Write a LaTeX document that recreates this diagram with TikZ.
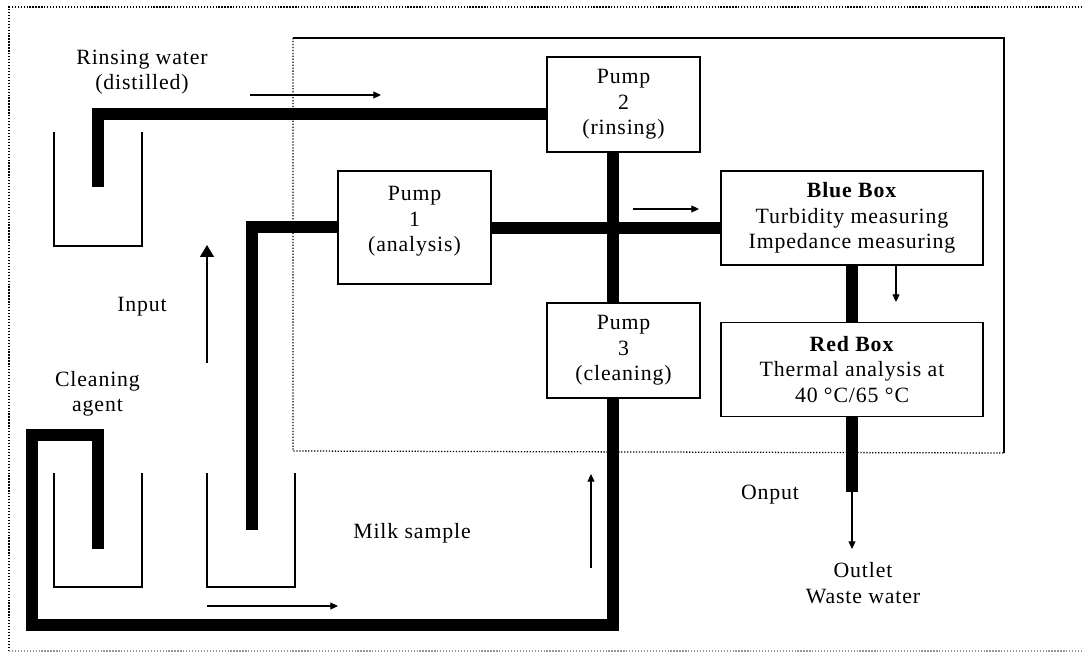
\documentclass[tikz,border=0pt]{standalone}
\usepackage{fontspec}
\setmainfont{Liberation Serif}[LetterSpace=4]
\usepackage{tikz}
\usetikzlibrary{arrows.meta,positioning}

\begin{document}
\begin{tikzpicture}[x=0.025cm,y=-0.025cm,
  every node/.style={font=\fontsize{15.5}{18}\selectfont},
  pumpbox/.style={draw,line width=1.1pt,minimum width=3.825cm,minimum height=2.375cm,align=center,inner sep=2pt},
  unitbox/.style={draw,line width=1.1pt,minimum width=6.55cm,minimum height=2.35cm,align=center,inner sep=2pt},
  tube/.style={line width=0.3cm},
  flow/.style={-{Triangle[length=5.5pt,width=5pt]},line width=0.8pt},
  beaker/.style={line width=0.9pt},
  frame/.style={dash pattern=on 0.9pt off 1.2pt,line width=0.9pt},
  lbl/.style={align=center}]
\useasboundingbox (0,0) rectangle (1082,653);
% frames
\draw[frame] (1082,7) -- (9,7) -- (9,651);
\draw[frame,black!40] (9,651) -- (1082,651);
\draw[line width=1pt] (293,38) -- (1004,38) -- (1004,453);
\draw[frame] (293,38) -- (293,451) -- (1004,453);
% pumps and measuring units
\node[pumpbox] (p2) at (623.5,104.5) {Pump\\2\\(rinsing)};
\node[pumpbox,minimum height=2.825cm] (p1) at (414.5,227.5) {Pump\\1\\(analysis)\\[-6pt]\mbox{}};
\node[pumpbox] (p3) at (623.5,350.5) {Pump\\3\\(cleaning)};
\node[unitbox] (blue) at (852,218) {\textbf{Blue Box}\\Turbidity measuring\\Impedance measuring};
\node[unitbox] (red) at (852,369.5) {\textbf{Red Box}\\Thermal analysis at\\40 °C/65 °C};
% beakers
\foreach \bx/\by in {54/132,54/473,207/473}
  \draw[beaker] (\bx,\by) |- ++(88,114) -- ++(0,-114);
% tube ends and corners
\coordinate (rinse) at (97.5,187);
\coordinate (rinsetop) at (97.5,114);
\coordinate (milk) at (251.5,530);
\coordinate (milktop) at (251.5,227);
\coordinate (cross) at (613,227);
\coordinate (clean) at (97.5,549);
\coordinate (cleanleft) at (32,435);
\coordinate (bottomleft) at (32,625);
\coordinate (drain) at (852,492);
\coordinate (outlet) at (852,549);
% tubes
\draw[tube] (rinse) -- (rinsetop) -- (rinsetop -| p2.west);
\draw[tube] (milk) -- (milktop) -- (milktop -| p1.west);
\draw[tube] (p1.east) -- (p1.east -| blue.west);
\draw[tube] (cross |- p2.south) -- (cross |- p3.north);
\draw[tube] (clean) |- (cleanleft) -- (bottomleft) -| (cross |- p3.south);
\draw[tube] (blue.south) -- (red.north);
\draw[tube] (red.south) -- (drain);
% flow direction
\draw[flow] (250,95) -- (381,95);
\draw[flow] (633,209) -- (699,209);
\draw[flow] (896,265) -- (896,302);
\draw[flow] (drain) -- (outlet);
\draw[-{Triangle[length=8.5pt,width=10pt]},line width=0.8pt] (207,363) -- (207,245);
\draw[flow] (207,606) -- (338,606);
\draw[flow] (591,568) -- (591,474);
% labels
\node[lbl] (rinselbl) at (142,72) {Rinsing water\\(distilled)};
\node (inputlbl) at (142,307) {Input};
\node[lbl] (cleanlbl) at (97.5,394) {Cleaning\\agent};
\node (milklbl) at (412,533) {Milk sample};
\node (onputlbl) at (770,495) {Onput};
\node[lbl] (outletlbl) at (863,583) {Outlet\\Waste water};
\end{tikzpicture}
\end{document}
